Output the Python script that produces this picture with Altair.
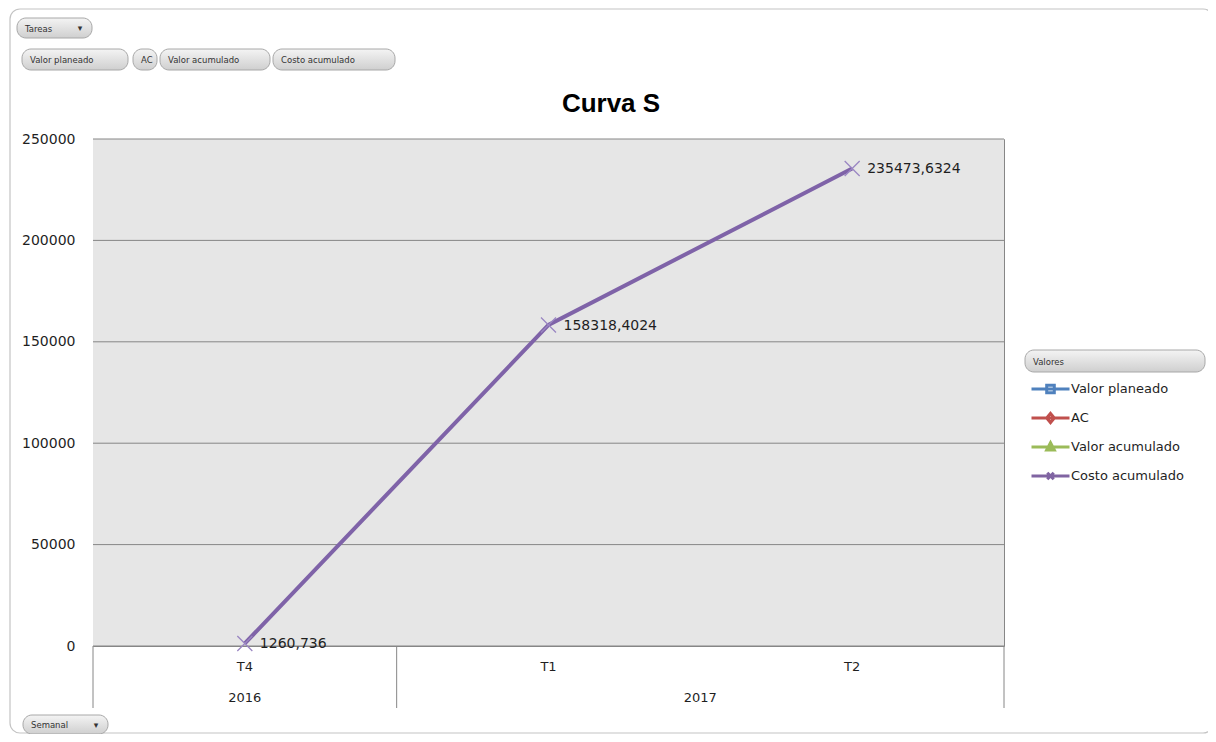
import altair as alt
import pandas as pd

# ---------------- data ----------------
quarters = ["T4", "T1", "T2"]
costo_acumulado = [1260.736, 158318.4024, 235473.6324]
years = ["2016", "2017"]
year_quarter = ["T4", "T1"]          # quarter each year label is anchored to
sep_start = ["T4", "T1"]             # category groups start at these quarters
sep_end = ["T2"]                     # last group ends at this quarter
series = ["Valor planeado", "AC", "Valor acumulado", "Costo acumulado"]
series_colors = ["#4f81bd", "#c0504d", "#9bbb59", "#8064a2"]
y_ticks = [0, 50000, 100000, 150000, 200000, 250000]
field_buttons = ["Valor planeado", "AC", "Valor acumulado", "Costo acumulado"]
title_text = "Curva S"

# ---------------- layout ----------------
W, H = 911, 507
FONT = "DejaVu Sans"
TXT = "#1f1f1f"
GRID = "#868686"

df = pd.DataFrame({
    "quarter": quarters,
    "value": costo_acumulado,
    "label": [repr(v).replace(".", ",") for v in costo_acumulado],
})
years_df = pd.DataFrame({"year": years, "quarter": year_quarter})
ticks_df = pd.DataFrame({"value": y_ticks})

x_scale = alt.Scale(type="band", domain=quarters, paddingInner=0, paddingOuter=0)
x_axis = alt.Axis(title=None, labelAngle=0, ticks=False, domain=False, grid=False,
                  labelPadding=14, labelFont=FONT, labelFontSize=13, labelColor=TXT)
y_scale = alt.Scale(domain=[0, 250000], nice=False, zero=True)
y_axis = alt.Axis(title=None, values=y_ticks, format="d", ticks=False, grid=False,
                  domain=False, labelPadding=18, labelFont=FONT,
                  labelFontSize=14, labelColor=TXT)
y_enc = alt.Y("value:Q", scale=y_scale, axis=y_axis)


def xq(band=0.5):
    return alt.X("quarter:N", sort=quarters, scale=x_scale, axis=x_axis,
                 bandPosition=band)


base = alt.Chart(df)

plot_bg = alt.Chart(pd.DataFrame({"k": [0]})).mark_rect(fill="#e6e6e6").encode(
    x=alt.value(0), x2=alt.value(W), y=alt.value(0), y2=alt.value(H))
grid = alt.Chart(ticks_df).mark_rule(color=GRID, strokeWidth=1).encode(y=y_enc)

line = base.mark_line(color="#7f63a8", strokeWidth=4).encode(x=xq(), y=y_enc)
marks = base.mark_point(shape="M-1,-1L1,1M-1,1L1,-1", filled=False, size=225,
                        stroke="#9a86c2", strokeWidth=1.3, opacity=1).encode(x=xq(), y=y_enc)
labels = base.mark_text(align="left", baseline="middle", dx=15, dy=1, font=FONT,
                        fontSize=14, color=TXT).encode(x=xq(), y=y_enc, text="label:N")

# category group separators and year labels
seps_a = alt.Chart(pd.DataFrame({"quarter": sep_start})).mark_rule(
    color=GRID, strokeWidth=1).encode(x=xq(0), y=alt.value(H), y2=alt.value(H + 62))
seps_b = alt.Chart(pd.DataFrame({"quarter": sep_end})).mark_rule(
    color=GRID, strokeWidth=1).encode(x=xq(1), y=alt.value(H), y2=alt.value(H + 62))
year_a = alt.Chart(years_df).transform_filter(alt.datum.year == years[0]).mark_text(
    baseline="middle", font=FONT, fontSize=13, color=TXT).encode(
    x=xq(0.5), y=alt.value(H + 52), text="year:N")
year_b = alt.Chart(years_df).transform_filter(alt.datum.year == years[1]).mark_text(
    baseline="middle", font=FONT, fontSize=13, color=TXT).encode(
    x=xq(1), y=alt.value(H + 52), text="year:N")

# legend (driven by the series list through colour + shape scales)
legend_shapes = [
    "M-1,0H1M-0.2,-0.2H0.2V0.2H-0.2Z",
    "M-1,0H1M0,-0.24L0.2,0L0,0.24L-0.2,0Z",
    "M-1,0H1M0,-0.22L0.2,0.16H-0.2Z",
    "M-1,0H1M-0.17,-0.17L0.17,0.17M-0.17,0.17L0.17,-0.17",
]
leg = alt.Legend(orient="none", legendX=937, legendY=242, title=None, padding=0,
                 labelOffset=0, labelFont=FONT, labelFontSize=13, labelColor=TXT,
                 symbolSize=1444, symbolStrokeWidth=3, clipHeight=16, rowPadding=13)
legend_layer = alt.Chart(pd.DataFrame({"series": series})).transform_filter("false").mark_point(
    filled=False, size=1444, strokeWidth=3, opacity=1).encode(
    color=alt.Color("series:N", scale=alt.Scale(domain=series, range=series_colors), legend=leg),
    shape=alt.Shape("series:N", scale=alt.Scale(domain=series, range=legend_shapes), legend=leg),
)

# ---------------- decorations (pivot-chart buttons, frame, title) ----------------
pill_fill = alt.Gradient(gradient="linear", x1=0, x2=0, y1=0, y2=1,
                         stops=[alt.GradientStop(color="#f4f4f4", offset=0),
                                alt.GradientStop(color="#cfcfcf", offset=1)])


def pill(label, x0, x1, y0, y1, arrow_x=None, font_size=8.5):
    d = pd.DataFrame({"label": [label]})
    layers = [
        alt.Chart(d).mark_rect(cornerRadius=9, fill=pill_fill, stroke="#a8a8a8",
                               strokeWidth=1).encode(
            x=alt.value(x0), x2=alt.value(x1), y=alt.value(y0), y2=alt.value(y1)),
        alt.Chart(d).mark_text(align="left", baseline="middle", font=FONT,
                               fontSize=font_size, color="#333333").encode(
            x=alt.value(x0 + 8), y=alt.value((y0 + y1) / 2 + 0.5), text="label:N"),
    ]
    if arrow_x is not None:
        layers.append(alt.Chart(d).mark_text(text="▾", align="center", baseline="middle",
                                             font=FONT, fontSize=9, color="#333333").encode(
            x=alt.value(arrow_x), y=alt.value((y0 + y1) / 2)))
    return layers


deco = []
frame = alt.Chart(pd.DataFrame({"k": [0]})).mark_rect(
    fill="transparent", stroke="#c4c4c4", strokeWidth=1.2, cornerRadius=10).encode(
    x=alt.value(-83), x2=alt.value(1120), y=alt.value(-130), y2=alt.value(594))
deco.append(frame)
deco += pill("Tareas", -76, -1, -121, -101, arrow_x=-13)
btn_x = [(-71, 35), (40, 64), (67, 177), (180, 302)]
for name, (a, b) in zip(field_buttons, btn_x):
    deco += pill(name, a, b, -90, -69)
deco += pill("Valores", 932, 1112, 211, 233)
deco += pill("Semanal", -70, 15, 576, 595, arrow_x=3)

title = alt.Chart(pd.DataFrame({"t": [title_text]})).mark_text(
    align="center", baseline="alphabetic", font="Liberation Sans", fontWeight="bold",
    fontSize=26, color="#000000").encode(x=alt.value(518), y=alt.value(-27), text="t:N")

chart = alt.layer(
    plot_bg, grid, line, marks, labels, seps_a, seps_b, year_a, year_b,
    legend_layer, title, *deco
).properties(
    width=W, height=H,
    padding={"left": 85, "top": 131, "right": 204, "bottom": 88},
    autosize=alt.AutoSizeParams(type="none"),
    background="white",
).configure_view(fill="#e6e6e6", stroke=GRID, strokeWidth=1)

chart.save("out.html", embed_options={"renderer": "svg", "actions": False})
